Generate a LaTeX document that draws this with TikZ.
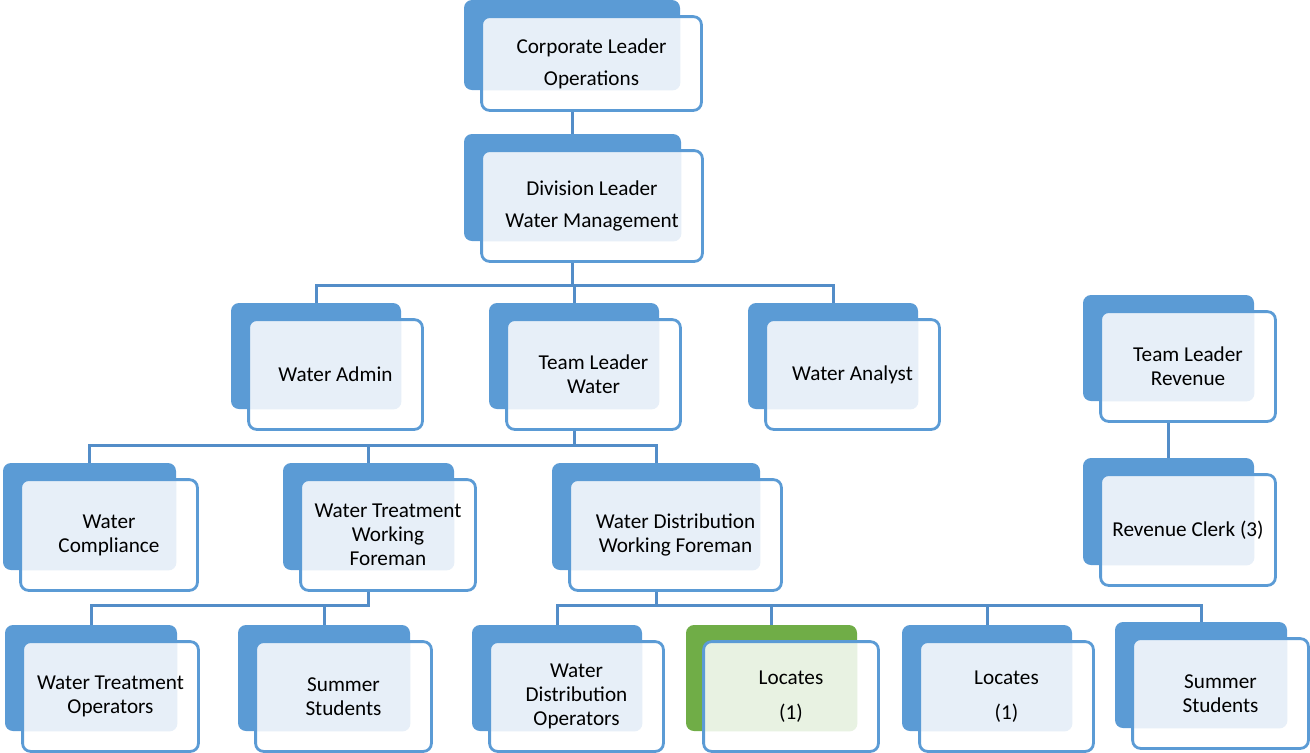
\documentclass[tikz,border=0pt]{standalone}
\usepackage{fontspec}
\setmainfont{Carlito}
\usetikzlibrary{backgrounds}
\definecolor{blueback}{RGB}{91,155,213}
\definecolor{bluelight}{RGB}{231,239,248}
\definecolor{greenback}{RGB}{112,173,71}
\definecolor{greenlight}{RGB}{232,242,226}
\definecolor{lineblue}{RGB}{83,141,200}
\tikzset{
  backbox/.style={rectangle, rounded corners=4pt, inner sep=0pt, draw=none},
  frontbox/.style={rectangle, rounded corners=4pt, inner sep=0pt, fill=white},
  frontline/.style={draw=blueback, line width=1.4pt, rounded corners=4pt},
  boxtext/.style={align=center, font=\fontsize{10.6}{12}\selectfont, inner sep=0pt},
  conn/.style={draw=lineblue, line width=1.5pt}
}

% #1 colour set, #2 name, #3/#4 top left of back box (px), #5/#6 size, #7 text
\newcommand{\orgbox}[7][blue]{%
  \node[backbox, fill=#1back, minimum width=#5*0.5pt, minimum height=#6*0.5pt]
    (#2-b) at (#3+#5/2, #4+#6/2) {};
  \node[frontbox, minimum width=#5*0.5pt+1.5pt, minimum height=#6*0.5pt+1.5pt]
    (#2) at (#3+#5/2+19.5, #4+#6/2+18.5) {};
  \begin{scope}
    \clip[rounded corners=4pt] (#2-b.south west) rectangle (#2-b.north east);
    \fill[#1light, rounded corners=4pt] (#2.south west) rectangle (#2.north east);
  \end{scope}
  \draw[frontline] (#2.south west) rectangle (#2.north east);
  \node[boxtext] (#2-t) at (#2) {#7};
}

\begin{document}
\begin{tikzpicture}[x=0.5pt, y=-0.5pt]
  \useasboundingbox (0,0) rectangle (1310,752);

  % top of the chart
  \orgbox{cor}{464}{0}{216}{90}{Corporate Leader\\[4pt]Operations}
  \orgbox{div}{464}{134}{217}{107}{Division Leader\\[4pt]Water Management}

  % third row
  \orgbox{adm}{231}{303}{170}{106}{Water Admin}
  \orgbox{tlw}{489}{303}{170}{106}{Team Leader\\Water}
  \orgbox{ana}{748}{303}{170}{106}{Water Analyst}

  % revenue branch
  \orgbox{tlr}{1083}{295}{171}{106}{Team Leader\\Revenue}
  \orgbox{clk}{1083}{458}{171}{107}{Revenue Clerk (3)}

  % fourth row
  \orgbox{cmp}{3}{463}{173}{107}{Water\\Compliance}
  \orgbox{wtf}{283}{463}{171}{107}{Water Treatment\\Working\\Foreman}
  \orgbox{wdf}{552}{463}{208}{107}{Water Distribution\\Working Foreman}

  % bottom row
  \orgbox{wto}{5}{625}{172}{106}{Water Treatment\\Operators}
  \orgbox{sst}{238}{625}{172}{106}{Summer\\Students}
  \orgbox{wdo}{472}{625}{170}{106}{Water\\Distribution\\Operators}
  \orgbox[green]{lca}{686}{625}{171}{106}{Locates\\[5.5pt](1)}
  \orgbox{lcb}{902}{625}{170}{106}{Locates\\[5.5pt](1)}
  \orgbox{ssb}{1115}{622}{172}{106}{Summer\\Students}

  % bus levels
  \coordinate (bus3) at (0,285);
  \coordinate (bus4) at (0,445);
  \coordinate (bus5) at (0,605);

  \begin{scope}[on background layer]
    \draw[conn] (cor-b.south) -- (cor-b.south |- div-b.north);
    \foreach \c in {adm,tlw,ana}
      \draw[conn] (div-b.south) |- (\c-b.north |- bus3) -- (\c-b.north);
    \foreach \c in {cmp,wtf,wdf}
      \draw[conn] (tlw-b.south) |- (\c-b.north |- bus4) -- (\c-b.north);
    \foreach \c in {wto,sst}
      \draw[conn] (wtf-b.south) |- (\c-b.north |- bus5) -- (\c-b.north);
    \foreach \c in {wdo,lca,lcb,ssb}
      \draw[conn] (wdf-b.south) |- (\c-b.north |- bus5) -- (\c-b.north);
    \draw[conn] (tlr-b.south) -- (tlr-b.south |- clk-b.north);
  \end{scope}
\end{tikzpicture}
\end{document}
